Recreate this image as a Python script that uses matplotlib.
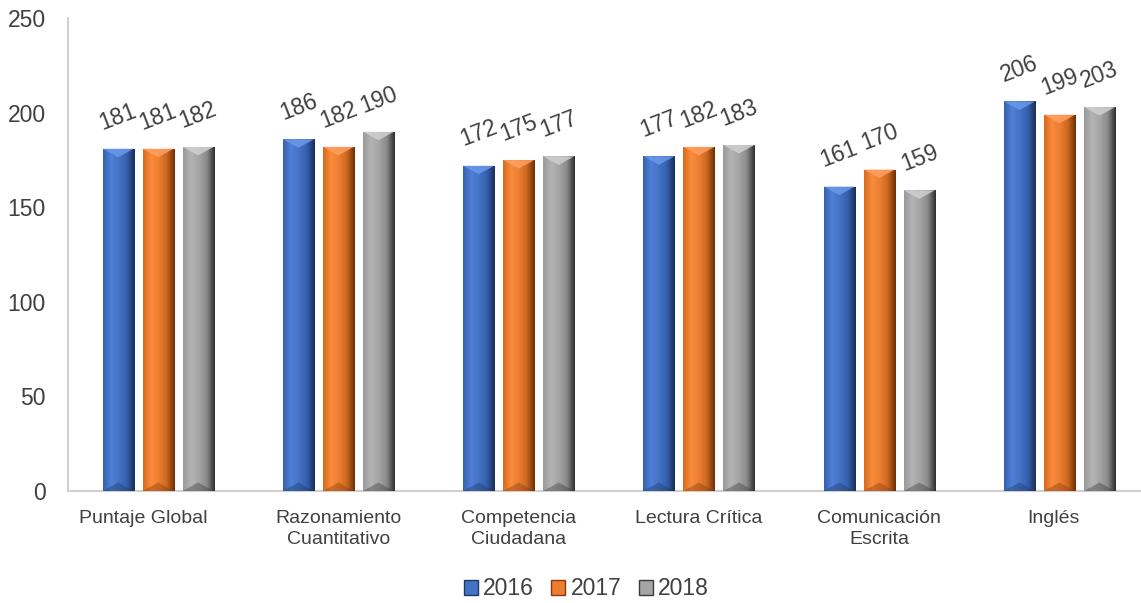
import numpy as np
import matplotlib
matplotlib.use("Agg")
import matplotlib.pyplot as plt
import matplotlib.transforms as mtransforms
from matplotlib.colors import LinearSegmentedColormap
from matplotlib.patches import Polygon, Rectangle

categories = ["Puntaje Global", "Razonamiento\nCuantitativo", "Competencia\nCiudadana",
              "Lectura Crítica", "Comunicación\nEscrita", "Inglés"]
years = ["2016", "2017", "2018"]
v2016 = [181, 186, 172, 177, 161, 206]
v2017 = [181, 182, 175, 182, 170, 199]
v2018 = [182, 190, 177, 183, 159, 203]
series = [v2016, v2017, v2018]
base_colors = ["#4472C4", "#ED7D31", "#A5A5A5"]
grads = [["#3660AE", "#4F80D8", "#4472C4", "#3560AE", "#1A2F55"],
         ["#D86A20", "#FA8C3C", "#ED7D31", "#CC6820", "#6E3008"],
         ["#9A9A9A", "#B4B4B4", "#A5A5A5", "#8A8A8A", "#2E2E2E"]]
light = ["#6A98EA", "#FFA060", "#D0D0D0"]
dark = ["#1F3864", "#843C0C", "#3A3A3A"]

plt.rcParams['font.family'] = ['Liberation Sans', 'DejaVu Sans']
fig = plt.figure(figsize=(11.41, 6.03), dpi=100)
ax = fig.add_axes([0.0596, 0.1857, 0.948, 0.784])

x = np.arange(len(categories))
w = 0.172
step = 0.222
for i, vals in enumerate(series):
    bars = ax.bar(x + (i - 1) * step, vals, w, color=base_colors[i], zorder=2,
                  edgecolor="none", label=years[i])
    cmap = LinearSegmentedColormap.from_list("g", grads[i])
    grad = np.linspace(0, 1, 64).reshape(1, -1)
    for b in bars:
        x0, h = b.get_x(), b.get_height()
        im = ax.imshow(grad, extent=[x0, x0 + w, 0, h], aspect="auto", cmap=cmap,
                       zorder=3, interpolation="bilinear")
        im.set_clip_path(b)
        bev = 4.5
        tri = Polygon([[x0, h], [x0 + w, h], [x0 + w / 2, h - bev]], closed=True,
                      facecolor=light[i], edgecolor="none", zorder=4, alpha=0.85)
        ax.add_patch(tri)
        bot = Polygon([[x0, 0], [x0 + w, 0], [x0 + w / 2, bev]], closed=True,
                      facecolor=dark[i], edgecolor="none", zorder=4, alpha=0.4)
        ax.add_patch(bot)
        ax.text(x0 + w / 2, h + 17, f"{int(h)}", rotation=21, ha="center", va="center",
                fontsize=16.5, color="#404040", rotation_mode="anchor")

ax.set_xlim(-0.5, len(categories) - 0.5)
ax.set_ylim(0, 250)
ax.set_yticks(np.arange(0, 251, 50))
ax.set_xticks(x)
ax.set_xticklabels(categories, fontsize=14, color="#404040", linespacing=1.3)
ax.tick_params(axis="y", labelsize=16.5, colors="#404040", length=0, pad=16)
ax.tick_params(axis="x", length=0, pad=14)
for s in ["top", "right"]:
    ax.spines[s].set_visible(False)
ax.spines["left"].set_color("#D0D0D0")
ax.spines["bottom"].set_color("#D0D0D0")
ax.spines["left"].set_linewidth(1.5)
ax.spines["bottom"].set_linewidth(1.5)

# first category label sits a little left of its group in the reference
lab0 = ax.get_xticklabels()[0]
lab0.set_transform(lab0.get_transform() + mtransforms.ScaledTranslation(-0.15, 0, fig.dpi_scale_trans))
lab5 = ax.get_xticklabels()[5]
lab5.set_transform(lab5.get_transform() + mtransforms.ScaledTranslation(-0.06, 0, fig.dpi_scale_trans))

handles = [Rectangle((0, 0), 1, 1, facecolor=base_colors[i], edgecolor=dark[i]) for i in range(3)]
leg = fig.legend(handles, years, loc="lower center", ncol=3, frameon=False,
                 bbox_to_anchor=(0.514, -0.03), fontsize=16.5, handlelength=0.6,
                 handleheight=0.6, handletextpad=0.25, columnspacing=0.75)
for t in leg.get_texts():
    t.set_color("#404040")

fig.savefig("out.png", dpi=100)
